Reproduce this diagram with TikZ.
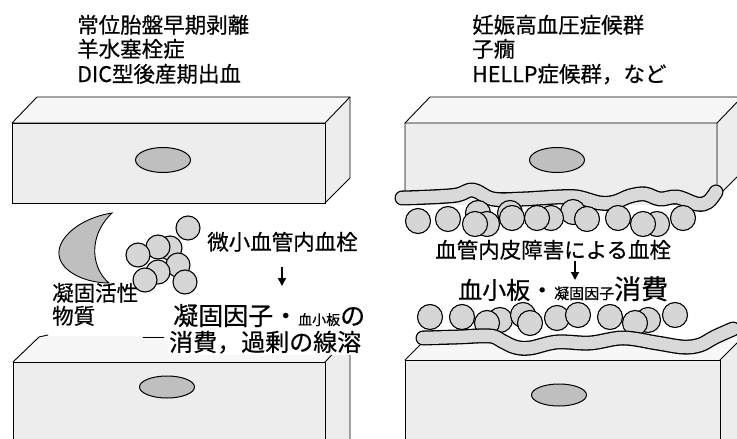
\documentclass[tikz,border=0pt]{standalone}
\usepackage{fontspec}
\setmainfont{Noto Sans CJK JP}[FakeBold=0.5]
\usetikzlibrary{arrows.meta}

\newcommand\fs[1]{\fontsize{#1}{#1}\selectfont}
% fibrin strand: dark outline underneath, grey core on top
\newcommand\fibrestrand[1]{%
  \draw[fibreout] plot[smooth, tension=0.6] coordinates {#1};
  \draw[fibrein] plot[smooth, tension=0.6] coordinates {#1};}

\begin{document}
\begin{tikzpicture}[x=1pt,y=-1pt,
  face/.style={fill=gray!14},
  topface/.style={fill=gray!6},
  edge/.style={draw=black, line width=0.9pt, line join=round, line cap=round},
  nucleus/.style={fill=gray!50, draw=black, line width=1pt},
  cell/.style={fill=gray!32, draw=black, line width=1.1pt},
  fibreout/.style={draw=black, line width=15pt, line cap=round, line join=round},
  fibrein/.style={draw=gray!30, line width=12.4pt, line cap=round, line join=round},
  lbl/.style={inner sep=0pt, anchor=base west},
  arr/.style={-{Triangle[length=8pt,width=8pt]}, line width=1.5pt},
]
\useasboundingbox (0,0) rectangle (737,439);
\clip (0,0) rectangle (737,439);

% ---------- upper left endothelial cell ----------
\fill[face] (12,123) rectangle (325,203);
\fill[topface] (12,123) -- (37,97) -- (350,97) -- (325,123) -- cycle;
\fill[face] (325,123) -- (350,97) -- (350,178) -- (325,203) -- cycle;
\draw[edge] (12,123) -- (37,97) -- (350,97) -- (325,123) -- cycle;
\draw[edge] (12,123) rectangle (325,203);
\draw[edge] (350,97) -- (350,178) -- (325,203);
\draw[nucleus] (163,160) ellipse [x radius=27.5, y radius=12.5];

% ---------- upper right endothelial cell ----------
\fill[face] (405,123) rectangle (717,205);
\fill[topface] (405,123) -- (430,97) -- (742,97) -- (717,123) -- cycle;
\fill[face] (717,123) -- (742,97) -- (742,172) -- (717,197) -- cycle;
\draw[edge] (405,200) -- (405,123) -- (430,97) -- (742,97);
\draw[edge] (405,123) -- (717,123) -- (742,97);
\draw[edge] (717,123) -- (717,197) -- (742,172);
\draw[nucleus] (557,160) ellipse [x radius=27.5, y radius=12.5];

% ---------- lower left endothelial cell ----------
\fill[face] (13,362) rectangle (325,450);
\fill[topface] (13,362) -- (39,336) -- (350,336) -- (325,362) -- cycle;
\fill[face] (325,362) -- (350,336) -- (350,450) -- (325,450) -- cycle;
\draw[edge] (13,450) -- (13,362) -- (325,362) -- (325,450);
\draw[edge] (13,362) -- (39,337) -- (48,335);
\draw[edge] (143,337) -- (164,337);
\draw[edge] (325,362) -- (350,336) -- (350,450);
\draw[nucleus] (167,387) ellipse [x radius=27.5, y radius=11];

% ---------- lower right endothelial cell ----------
\fill[face] (405,360) rectangle (720,450);
\fill[topface] (405,360) -- (424,341) -- (740,341) -- (720,360) -- cycle;
\fill[face] (720,360) -- (740,340) -- (740,450) -- (720,450) -- cycle;
\draw[edge] (405,450) -- (405,360) -- (720,360) -- (720,450);
\draw[edge] (405,360) -- (424,341);
\draw[edge] (720,360) -- (740,340);
\draw[nucleus] (559,395) ellipse [x radius=27.5, y radius=11];

% ---------- procoagulant substance (crescent) ----------
\draw[fill=gray!50, draw=black, line width=0.9pt]
  (112,213) .. controls (80,218) and (57,238) .. (59,255)
  .. controls (61,272) and (86,283) .. (109,283)
  .. controls (93,270) and (86,238) .. (112,213) -- cycle;

% ---------- microthrombus cluster ----------
\foreach \cx/\cy in {170/248, 178/265, 158/247, 188/228, 138/255, 158/272, 145/280, 185/282}
  \draw[cell] (\cx,\cy) circle [radius=12];

% ---------- upper right: fibrin strand and platelets ----------
\fibrestrand{(402,198) (430,197) (457,195) (473,190) (493,199) (523,199) (557,197)
  (577,197) (600,203) (615,202) (630,196) (645,194) (660,199) (677,197)
  (697,204) (708,202) (716,192)}
\foreach \cx/\cy in {478/213, 510/213, 487/224, 573/212, 657/224, 551/218,
                     418/221, 448/219, 475/224, 512/218, 537/218, 587/219,
                     618/218, 643/224, 683/218}
  \draw[cell] (\cx,\cy) circle [radius=12.5];

% ---------- lower right: platelets and fibrin strand ----------
\foreach \cx/\cy in {430/317, 462/317, 500/320, 523/315, 557/318, 578/315,
                     610/317, 648/320, 675/315, 487/323, 530/323, 635/323}
  \draw[cell] (\cx,\cy) circle [radius=12.5];
\fibrestrand{(423,338) (457,337) (490,336) (502,341) (515,347) (530,348) (557,342)
  (590,343) (623,338) (657,343) (683,347) (700,345) (715,337) (733,329)}

% ---------- headings ----------
\node[lbl, font=\fs{21.5}] (la) at (77,33) {常位胎盤早期剥離};
\node[lbl, font=\fs{21.5}] (lb) at (77,57) {羊水塞栓症};
\node[lbl, font=\fs{21.5}] (lc) at (77,82) {DIC型後産期出血};
\node[lbl, font=\fs{21.5}] (ra) at (472,33) {妊娠高血圧症候群};
\node[lbl, font=\fs{21.5}] (rb) at (472,57) {子癇};
\node[lbl, font=\fs{21.5}] (rc) at (472,82) {HELLP症候群，など};

% ---------- left mechanism labels ----------
\node[lbl, font=\fs{21.5}] (pa) at (52,301) {凝固活性};
\node[lbl, font=\fs{21.5}] (pb) at (52,324) {物質};
\node[lbl, font=\fs{21.5}] (mt) at (207,250) {微小血管内血栓};
\node[lbl, fill=white, inner sep=1pt] (cs) at (172,325)
  {\fs{25}凝固因子・\fs{14}血小板\fs{25}の};
\node[lbl, fill=white, inner sep=1pt] (fl) at (168,351) {\fs{24}消費，過剰の線溶};
\coordinate (a1s) at (282,267);
\coordinate (a1e) at (282,286);
\draw[arr] (a1s) -- (a1e);

% ---------- right mechanism labels ----------
\node[lbl, fill=white, inner sep=1pt, font=\fs{21.5}] (et) at (434,258) {血管内皮障害による血栓};
\node[lbl, fill=white, inner sep=1pt] (pc) at (457,299)
  {\fs{24}血小板・\fs{15}凝固因子\fs{27}消費};
\coordinate (a2s) at (575,261);
\coordinate (a2e) at (575,280);
\draw[arr] (a2s) -- (a2e);
\end{tikzpicture}
\end{document}
